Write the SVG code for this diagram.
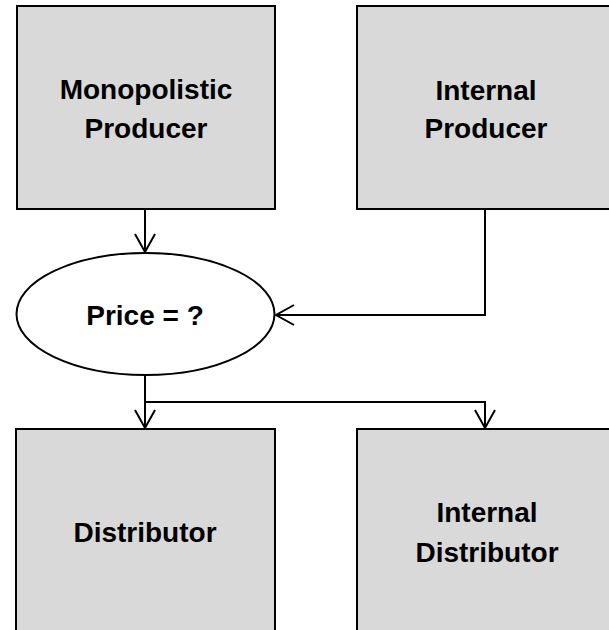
<svg xmlns="http://www.w3.org/2000/svg" width="609" height="630" viewBox="0 0 609 630">
  <style>
    .box { fill: #d9d9d9; stroke: #000; stroke-width: 2; }
    .oval { fill: #fff; stroke: #000; stroke-width: 2; }
    .label { font-family: "Liberation Sans", Arial, sans-serif; font-weight: bold; font-size: 28px; fill: #000; text-anchor: middle; }
    .wire { fill: none; stroke: #000; stroke-width: 2; }
  </style>
  <defs>
    <marker id="open-arrow" markerUnits="userSpaceOnUse" markerWidth="24" markerHeight="24" viewBox="-20 -12 24 24" refX="0" refY="0" orient="auto">
      <path d="M -18 -10 L 0 0 L -18 10" fill="none" stroke="#000" stroke-width="2"/>
    </marker>
  </defs>
  <rect width="609" height="630" fill="#fff"/>

  <g id="monopolistic-producer">
    <rect class="box" x="17" y="6" width="258" height="203"/>
    <text class="label" x="146" y="99">Monopolistic</text>
    <text class="label" x="146" y="138">Producer</text>
  </g>

  <g id="internal-producer">
    <rect class="box" x="357" y="6" width="270" height="203"/>
    <text class="label" x="486" y="100">Internal</text>
    <text class="label" x="486" y="138">Producer</text>
  </g>

  <g id="price">
    <ellipse class="oval" cx="145.5" cy="314" rx="129" ry="61"/>
    <text class="label" x="145" y="325">Price = ?</text>
  </g>

  <g id="distributor">
    <rect class="box" x="16" y="429" width="259" height="220"/>
    <text class="label" x="145" y="542">Distributor</text>
  </g>

  <g id="internal-distributor">
    <rect class="box" x="357" y="429" width="270" height="220"/>
    <text class="label" x="487" y="522">Internal</text>
    <text class="label" x="487" y="562">Distributor</text>
  </g>

  <g id="connectors">
    <path class="wire" d="M 145 209 L 145 252" marker-end="url(#open-arrow)"/>
    <path class="wire" d="M 485 209 L 485 315 L 276 315" marker-end="url(#open-arrow)"/>
    <path class="wire" d="M 145 375 L 145 428" marker-end="url(#open-arrow)"/>
    <path class="wire" d="M 145 402 L 485 402 L 485 428" marker-end="url(#open-arrow)"/>
  </g>
</svg>
